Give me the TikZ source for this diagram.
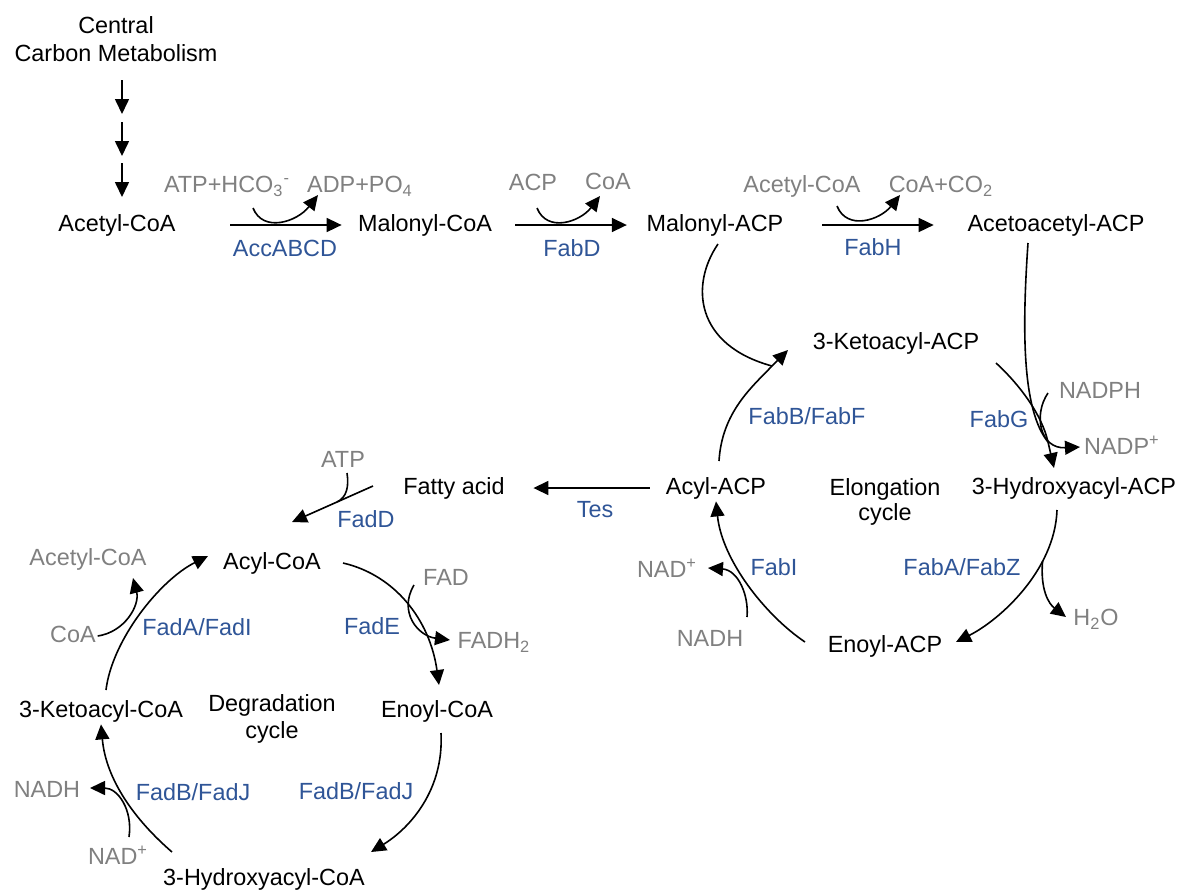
\documentclass[tikz,border=0pt]{standalone}
\usepackage{fontspec}
\setmainfont{Liberation Sans}
\usetikzlibrary{arrows.meta}

\definecolor{cofgray}{RGB}{128,128,128}
\definecolor{enzblue}{RGB}{47,85,151}

\tikzset{
  met/.style={inner sep=0.75pt, text height=9pt, text depth=2.5pt},
  cof/.style={met, text=cofgray},
  enz/.style={met, text=enzblue},
  cyc/.style={inner sep=0.75pt, align=center},
  rxn/.style={line width=0.8pt, -{Triangle[length=7.5pt,width=7pt]}},
  link/.style={line width=0.8pt},
}

\begin{document}
\begin{tikzpicture}[x=0.5pt,y=0.5pt,yscale=-1,xscale=1,font=\fontsize{11.7pt}{13pt}\selectfont]
\useasboundingbox (0,0) rectangle (1179,891);

% Text Node
\node[cyc, font=\fontsize{11.7pt}{14pt}\selectfont] (ccm) at (116,39) {Central\\Carbon Metabolism};
% Text Node
\node[met] (accoa) at (117,225) {Acetyl-CoA};
\node[met] (malcoa) at (425,225) {Malonyl-CoA};
\node[met] (malacp) at (715,225) {Malonyl-ACP};
\node[met] (acacp) at (1056,225) {Acetoacetyl-ACP};
% Text Node
\node[cof] (atp1) at (227,186) {ATP+HCO\textsubscript{3}\textsuperscript{-}};
\node[cof] (adp1) at (360,186) {ADP+PO\textsubscript{4}};
\node[cof] (acp1) at (533,184) {ACP};
\node[cof] (coa1) at (608,183) {CoA};
\node[cof] (accoa2) at (802,186) {Acetyl-CoA};
\node[cof] (coaco2) at (941,186) {CoA+CO\textsubscript{2}};
% Text Node
\node[enz] (accabcd) at (285,250) {AccABCD};
\node[enz] (fabd) at (572,250) {FabD};
\node[enz] (fabh) at (873,249) {FabH};

% Text Node
\node[met] (ketoacp) at (896,343) {3-Ketoacyl-ACP};
\node[enz] (fabbf) at (807,418) {FabB/FabF};
\node[cof] (nadph) at (1100,392) {NADPH};
\node[enz] (fabg) at (999,421) {FabG};
\node[cof] (nadp) at (1122,448) {NADP\textsuperscript{+}};
\node[met] (acylacp) at (716,488) {Acyl-ACP};
\node[cyc, font=\fontsize{11.7pt}{12.5pt}\selectfont] (elong) at (885,502) {Elongation\\cycle};
\node[met] (hydacp) at (1074,488) {3-Hydroxyacyl-ACP};
\node[enz] (fabaz) at (962,569) {FabA/FabZ};
\node[enz] (fabi) at (774,569) {FabI};
\node[cof] (nadplus1) at (667,571) {NAD\textsuperscript{+}};
\node[cof] (h2o) at (1096,619) {H\textsubscript{2}O};
\node[met] (enoylacp) at (885,646) {Enoyl-ACP};
\node[cof] (nadh1) at (710,640) {NADH};
\node[enz] (tes) at (595,511) {Tes};
\node[met] (fatty) at (454,488) {Fatty acid};
\node[cof] (atp2) at (343,461) {ATP};
\node[enz] (fadd) at (366,521) {FadD};

% Text Node
\node[cof] (accoa3) at (88,559) {Acetyl-CoA};
\node[met] (acylcoa) at (272,563) {Acyl-CoA};
\node[cof] (fad) at (446,579) {FAD};
\node[enz] (fadai) at (197,629) {FadA/FadI};
\node[enz] (fade) at (372,628) {FadE};
\node[cof] (coa2) at (73,636) {CoA};
\node[cof] (fadh2) at (494,642) {FADH\textsubscript{2}};
\node[cyc, font=\fontsize{11.7pt}{13.5pt}\selectfont] (degr) at (272,719) {Degradation\\cycle};
\node[met] (ketocoa) at (101,711) {3-Ketoacyl-CoA};
\node[met] (enoylcoa) at (437,711) {Enoyl-CoA};
\node[cof] (nadh2) at (47,791) {NADH};
\node[enz] (fadbj1) at (193,794) {FadB/FadJ};
\node[enz] (fadbj2) at (356,793) {FadB/FadJ};
\node[cof] (nadplus2) at (118,858) {NAD\textsuperscript{+}};
\node[met] (hydcoa) at (264,879) {3-Hydroxyacyl-CoA};

% arc ends
\coordinate (acc-in) at (253,208);
\coordinate (acc-out) at (318,195);
\coordinate (fabd-in) at (537,208);
\coordinate (fabd-out) at (600,196);
\coordinate (fabh-in) at (837,206);
\coordinate (fabh-out) at (900,195);
\coordinate (malacp-out) at (718,244);
\coordinate (acylacp-out) at (719,461);
\coordinate (kjoin) at (772,366);
\coordinate (ketoacp-in) at (788,350);
\coordinate (ketoacp-out) at (996,363);
\coordinate (acacp-out) at (1028,243);
\coordinate (hjoin) at (1048,442);
\coordinate (hydacp-in) at (1054,468);
\coordinate (nadph-in) at (1048,393);
\coordinate (nadp-out) at (1080,447);
\coordinate (hydacp-out) at (1057,510);
\coordinate (enoylacp-in) at (956,642);
\coordinate (h2o-out) at (1066,617);
\coordinate (enoylacp-out) at (805,642);
\coordinate (nadh1-in) at (747,617);
\coordinate (nadplus1-out) at (708,568);
\coordinate (fatty-out) at (373,486);
\coordinate (acylcoa-in) at (292,522);
\coordinate (atp2-in) at (347,473);
\coordinate (acylcoa-out) at (343,563);
\coordinate (enoylcoa-in) at (439,685);
\coordinate (fad-in) at (414,585);
\coordinate (fadh2-out) at (450,640);
\coordinate (enoylcoa-out) at (441,733);
\coordinate (hydcoa-in) at (371,852);
\coordinate (hydcoa-out) at (172,852);
\coordinate (nadplus2-in) at (129,837);
\coordinate (nadh2-out) at (90,788);
\coordinate (ketocoa-out) at (106,690);
\coordinate (acylcoa-back) at (208,556);
\coordinate (accoa3-out) at (133,578);

%Straight Lines
\foreach \y in {80,122,163} {
  \draw[rxn] (122,\y) -- (122,\y+34);
}
%Straight Lines
\draw[rxn, shorten <=26.5pt, shorten >=7.25pt] (accoa.east) -- (malcoa.west);
\draw[rxn, shorten <=10.75pt, shorten >=9pt] (malcoa.east) -- (malacp.west);
\draw[rxn, shorten <=18.6pt, shorten >=16pt] (malacp.east) -- (acacp.west);
%Curve Lines
\draw[rxn] (acc-in) .. controls (263,233) and (297,222) .. (acc-out);
\draw[rxn] (fabd-in) .. controls (547,233) and (580,222) .. (fabd-out);
\draw[rxn] (fabh-in) .. controls (847,231) and (880,220) .. (fabh-out);

% elongation cycle
\draw[link] (malacp-out) .. controls (690,285) and (695,345) .. (kjoin);
\draw[rxn] (acylacp-out) .. controls (722,412) and (752,387) .. (kjoin) -- (ketoacp-in);
\draw[link] (acacp-out) .. controls (1022,330) and (1022,410) .. (hjoin);
\draw[rxn] (ketoacp-out) .. controls (1020,385) and (1042,415) .. (hjoin) -- (hydacp-in);
\draw[rxn] (nadph-in) .. controls (1033,415) and (1040,449) .. (nadp-out);
\draw[rxn] (hydacp-out) .. controls (1055,570) and (1000,620) .. (enoylacp-in) coordinate[pos=0.3] (e3br);
\draw[rxn] (e3br) .. controls (1040,590) and (1049,604) .. (h2o-out);
\draw[rxn] (enoylacp-out) .. controls (765,615) and (722,560) .. (acylacp.south);
\draw[rxn] (nadh1-in) .. controls (749,595) and (738,570) .. (nadplus1-out);
%Straight Lines
\draw[rxn, shorten <=7.25pt, shorten >=13.4pt] (acylacp.west) -- (fatty.east);
\draw[rxn] (fatty-out) -- (acylcoa-in) coordinate[pos=0.44] (faddbr);
\draw[link] (atp2-in) .. controls (349,486) and (347,497) .. (faddbr);

% degradation cycle
\draw[rxn] (acylcoa-out) .. controls (395,575) and (430,620) .. (enoylcoa-in);
\draw[rxn] (fad-in) .. controls (398,612) and (418,636) .. (fadh2-out);
\draw[rxn] (enoylcoa-out) .. controls (444,790) and (410,828) .. (hydcoa-in);
\draw[rxn] (hydcoa-out) .. controls (135,820) and (106,780) .. (ketocoa.south);
\draw[rxn] (nadplus2-in) .. controls (133,810) and (118,788) .. (nadh2-out);
\draw[rxn] (ketocoa-out) .. controls (112,640) and (160,580) .. (acylcoa-back);
\draw[rxn] (coa2.east) .. controls (125,632) and (140,605) .. (accoa3-out);
\end{tikzpicture}
\end{document}
